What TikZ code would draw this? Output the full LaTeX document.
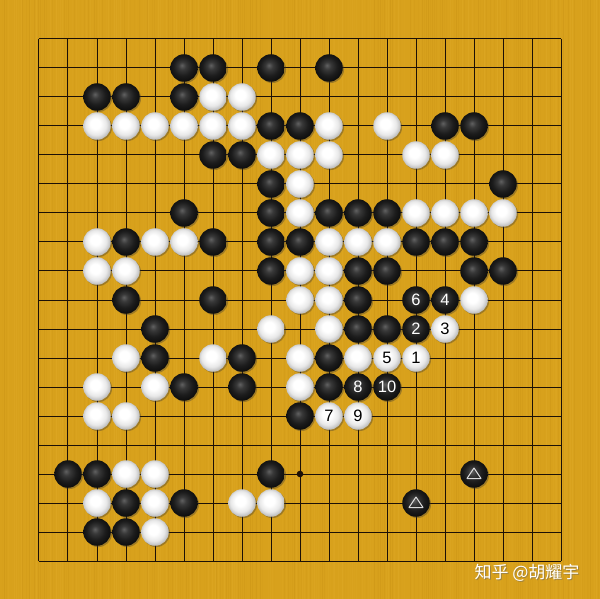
\documentclass[tikz,border=0pt]{standalone}
\usepackage{fontspec}
\setmainfont{Liberation Sans}
\newfontfamily\cjk{Noto Sans CJK SC}
\usetikzlibrary{shadows}
\definecolor{wood}{RGB}{216,161,28}
\definecolor{wooddark}{RGB}{190,135,15}
\definecolor{woodlight}{RGB}{232,180,50}
\definecolor{gridc}{RGB}{28,16,6}
\pgfdeclareradialshading{bshade}{\pgfpoint{-4bp}{5bp}}{%
  color(0bp)=(black!62); color(7bp)=(black!78); color(17bp)=(black!89); color(25bp)=(black!94); color(40bp)=(black)}
\pgfdeclareradialshading{wshade}{\pgfpoint{-4bp}{5bp}}{%
  color(0bp)=(white); color(9bp)=(white); color(19bp)=(white!91!black); color(25bp)=(white!76!black); color(40bp)=(white!60!black)}
\begin{document}
\begin{tikzpicture}[x=29pt,y=-29pt,
  stone/.style={circle, minimum size=27.5pt, inner sep=0pt,
    drop shadow={shadow xshift=1.3pt, shadow yshift=-1.3pt, opacity=0.35, fill=black!80}},
  bst/.style={stone, shading=bshade, text=white, font=\fontsize{16.5}{16.5}\selectfont},
  wst/.style={stone, shading=wshade, text=black, font=\fontsize{16.5}{16.5}\selectfont},
  gridline/.style={draw=gridc, line width=1pt},
  tri/.style={draw=white!85!black, line width=1pt, line join=round}]
\fill[wood] (-39pt,39pt) rectangle (561pt,-560pt);
\useasboundingbox (-39pt,39pt) rectangle (561pt,-560pt);
% wood grain
\pgfmathsetseed{7}
\foreach \k in {0,...,299}{
  \pgfmathsetmacro{\gx}{-39+2*\k+rnd}
  \pgfmathsetmacro{\go}{0.25*rnd}
  \pgfmathsetmacro{\gs}{rnd}
  \ifdim\gs pt>0.5pt
    \draw[wooddark, opacity=\go, line width=0.8pt] (\gx pt,39pt) -- (\gx pt,-560pt);
  \else
    \draw[woodlight, opacity=\go, line width=0.8pt] (\gx pt,39pt) -- (\gx pt,-560pt);
  \fi
}
% grid
\foreach \i in {0,...,18}{
  \draw[gridline] (\i,0) -- (\i,18);
  \draw[gridline] (0,\i) -- (18,\i);
}
\fill[gridc] (9,15) circle (3.3pt);
% black stones
\foreach \c/\r in {5/1,6/1,8/1,10/1, 2/2,3/2,5/2, 8/3,9/3,14/3,15/3, 6/4,7/4, 8/5,16/5,
  5/6,8/6,10/6,11/6,12/6, 3/7,6/7,8/7,9/7,13/7,14/7,15/7, 8/8,11/8,12/8,15/8,16/8,
  3/9,6/9,11/9, 4/10,11/10,12/10, 4/11,7/11,10/11, 5/12,7/12,10/12, 9/13,
  1/15,2/15,8/15, 3/16,5/16, 2/17,3/17}
  \node[bst] (b-\c-\r) at (\c,\r) {};
% white stones
\foreach \c/\r in {6/2,7/2, 2/3,3/3,4/3,5/3,6/3,7/3,10/3,12/3, 8/4,9/4,10/4,13/4,14/4, 9/5,
  9/6,13/6,14/6,15/6,16/6, 2/7,4/7,5/7,10/7,11/7,12/7, 2/8,3/8,9/8,10/8, 9/9,10/9,15/9,
  8/10,10/10, 3/11,6/11,9/11,11/11, 2/12,4/12,9/12, 2/13,3/13, 3/15,4/15, 2/16,4/16,7/16,8/16, 4/17}
  \node[wst] (w-\c-\r) at (\c,\r) {};
% numbered moves
\node[wst] (m1) at (13,11) {1};
\node[bst] (m2) at (13,10) {2};
\node[wst] (m3) at (14,10) {3};
\node[bst] (m4) at (14,9) {4};
\node[wst] (m5) at (12,11) {5};
\node[bst] (m6) at (13,9) {6};
\node[wst] (m7) at (10,13) {7};
\node[bst] (m8) at (11,12) {8};
\node[wst] (m9) at (11,13) {9};
\node[bst] (m10) at (12,12) {10};
% marked stones
\node[bst] (t1) at (15,15) {};
\node[bst] (t2) at (13,16) {};
\foreach \n in {t1,t2}
  \draw[tri] ([yshift=6pt]\n.center) -- ([xshift=7pt,yshift=-4.5pt]\n.center) -- ([xshift=-7pt,yshift=-4.5pt]\n.center) -- cycle;
% watermark
\node[anchor=east, text=black!60, opacity=0.5, font=\cjk\fontsize{17}{17}\selectfont] at (545pt,-535.2pt) {知乎 @胡耀宇};
\node[anchor=east, text=white, font=\cjk\fontsize{17}{17}\selectfont] (wm) at (544pt,-534pt) {知乎 @胡耀宇};
\end{tikzpicture}
\end{document}
